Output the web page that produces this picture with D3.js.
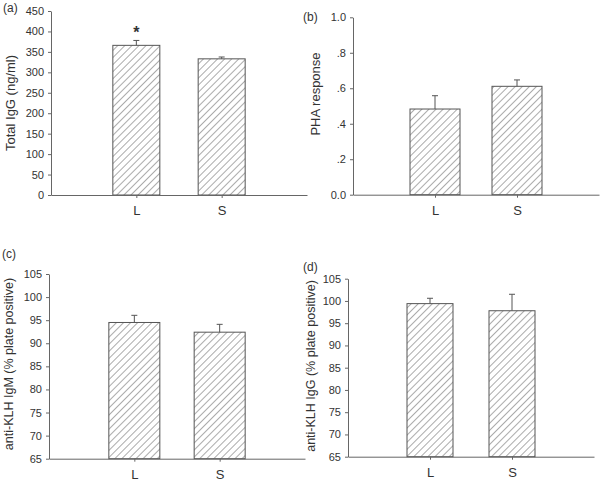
<!DOCTYPE html>
<html>
<head>
<meta charset="utf-8">
<script src="https://cdn.jsdelivr.net/npm/d3@7"></script>
<style>
  body { margin: 0; background: #fff; }
  text { font-family: "Liberation Sans", Arial, sans-serif; fill: #333; }
</style>
</head>
<body>
<svg id="chart" width="603" height="481"></svg>
<script>
// data
const groups = ["L", "S"];

const iggMean = [366, 333];
const iggErr = [12, 4.5];
const iggTicks = [0, 50, 100, 150, 200, 250, 300, 350, 400, 450];

const phaMean = [0.483, 0.611];
const phaErr = [0.075, 0.036];
const phaTicks = [0, 0.2, 0.4, 0.6, 0.8, 1.0];
const phaTickLabels = ["0.0", ".2", ".4", ".6", ".8", "1.0"];

const igmMean = [94.5, 92.4];
const igmErr = [1.55, 1.7];
const klhTicks = [65, 70, 75, 80, 85, 90, 95, 100, 105];

const klhIggMean = [99.4, 97.8];
const klhIggErr = [1.2, 3.7];

const svg = d3.select("#chart");

// hatch pattern
const defs = svg.append("defs");
defs.append("pattern")
    .attr("id", "hatch")
    .attr("patternUnits", "userSpaceOnUse")
    .attr("width", 5)
    .attr("height", 5)
    .attr("patternTransform", "rotate(45)")
  .append("line")
    .attr("x1", 0).attr("y1", 0)
    .attr("x2", 0).attr("y2", 5)
    .attr("stroke", "#444")
    .attr("stroke-width", 0.9);

const panels = [
  {label: "(a)", lx: 3, ly: 12, title: "Total IgG (ng/ml)", tx: 15, ty: 103, tsize: 13,
   x0: 51, x1: 307, yBot: 195, yTop: 11, domain: [0, 450],
   ticks: iggTicks, fmt: d => d, mean: iggMean, err: iggErr, bw: 47, star: 0},
  {label: "(b)", lx: 303, ly: 21, title: "PHA response", tx: 320, ty: 94, tsize: 13,
   x0: 353, x1: 599, yBot: 194.7, yTop: 17.3, domain: [0, 1],
   ticks: phaTicks, fmt: (d, i) => phaTickLabels[i], mean: phaMean, err: phaErr, bw: 50},
  {label: "(c)", lx: 2, ly: 258, title: "anti-KLH  IgM (% plate positive)", tx: 13, ty: 364, tsize: 12.5,
   x0: 49, x1: 305, yBot: 458.7, yTop: 274, domain: [65, 105],
   ticks: klhTicks, fmt: d => d, mean: igmMean, err: igmErr, bw: 51},
  {label: "(d)", lx: 303, ly: 271, title: "anti-KLH IgG (% plate positive)", tx: 315, ty: 366, tsize: 12.5,
   x0: 348, x1: 594, yBot: 456.7, yTop: 278.7, domain: [65, 105],
   ticks: klhTicks, fmt: d => d, mean: klhIggMean, err: klhIggErr, bw: 46}
];

panels.forEach(function(p) {
  const g = svg.append("g");

  const x = d3.scalePoint().domain(groups).range([p.x0, p.x1]).padding(1);
  const y = d3.scaleLinear().domain(p.domain).range([p.yBot, p.yTop]);

  // y axis
  const ya = g.append("g")
    .attr("transform", "translate(" + p.x0 + ",0)")
    .call(d3.axisLeft(y).tickValues(p.ticks).tickFormat(p.fmt).tickSize(3).tickPadding(4).tickSizeOuter(0));
  ya.select(".domain").attr("stroke", "#666");
  ya.selectAll(".tick line").attr("stroke", "#666");
  ya.selectAll(".tick text").style("font-size", "11px").style("fill", "#333")
    .style("font-family", "Liberation Sans, Arial, sans-serif");

  // bars
  const data = groups.map((k, i) => ({k: k, m: p.mean[i], e: p.err[i]}));

  g.selectAll(".err").data(data).enter().append("line")
    .attr("x1", d => x(d.k)).attr("x2", d => x(d.k))
    .attr("y1", d => y(d.m)).attr("y2", d => y(d.m + d.e))
    .attr("stroke", "#555").attr("stroke-width", 1);
  g.selectAll(".cap").data(data).enter().append("line")
    .attr("x1", d => x(d.k) - 3).attr("x2", d => x(d.k) + 3)
    .attr("y1", d => y(d.m + d.e)).attr("y2", d => y(d.m + d.e))
    .attr("stroke", "#555").attr("stroke-width", 1);

  g.selectAll(".bar").data(data).enter().append("rect")
    .attr("x", d => x(d.k) - p.bw / 2)
    .attr("width", p.bw)
    .attr("y", d => y(d.m))
    .attr("height", d => p.yBot - y(d.m))
    .attr("fill", "url(#hatch)")
    .attr("stroke", "#555")
    .attr("stroke-width", 1);

  // x axis
  const xa = g.append("g")
    .attr("transform", "translate(0," + p.yBot + ")")
    .call(d3.axisBottom(x).tickSize(3).tickPadding(8).tickSizeOuter(0));
  xa.select(".domain").attr("stroke", "#666");
  xa.selectAll(".tick line").attr("stroke", "#666");
  xa.selectAll(".tick text").style("font-size", "13px").style("fill", "#333")
    .style("font-family", "Liberation Sans, Arial, sans-serif");

  // titles
  g.append("text")
    .attr("transform", "translate(" + p.tx + "," + p.ty + ") rotate(-90)")
    .attr("text-anchor", "middle")
    .style("font-size", p.tsize + "px")
    .text(p.title);

  g.append("text")
    .attr("x", p.lx).attr("y", p.ly)
    .style("font-size", "12px")
    .text(p.label);

  if (p.star !== undefined) {
    const d = data[p.star];
    g.append("text")
      .attr("x", x(d.k)).attr("y", y(d.m + d.e) - 2)
      .attr("text-anchor", "middle")
      .style("font-size", "16px")
      .style("font-weight", "bold")
      .text("*");
  }
});
</script>
</body>
</html>
